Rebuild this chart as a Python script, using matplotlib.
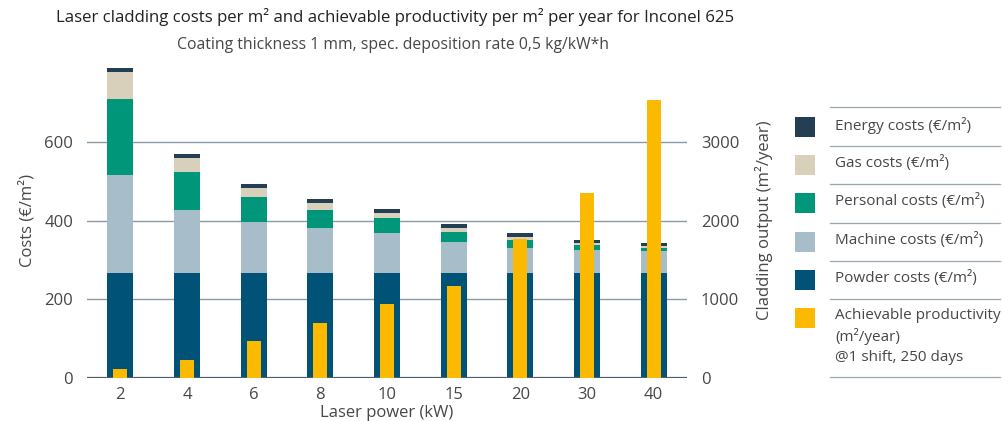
"""Laser cladding costs and productivity for Inconel 625."""

import matplotlib

matplotlib.use("Agg")

import matplotlib.pyplot as plt
import numpy as np
from matplotlib.lines import Line2D
from matplotlib.patches import Rectangle

power_kw = ["2", "4", "6", "8", "10", "15", "20", "30", "40"]
powder = [268, 268, 268, 268, 268, 268, 268, 268, 268]
machine = [248, 160, 128, 112, 100, 78, 63, 57, 55]
personal = [192, 96, 65, 48, 38, 25, 20, 13, 8]
gas = [69, 35, 22, 17, 13, 10, 7, 4, 4]
energy = [10, 10, 10, 11, 11, 10, 10, 9, 9]
productivity = [115, 236, 473, 705, 938, 1174, 1762, 2349, 3527]

legend_labels = [
    "Energy costs (€/m²)",
    "Gas costs (€/m²)",
    "Personal costs (€/m²)",
    "Machine costs (€/m²)",
    "Powder costs (€/m²)",
    "Achievable productivity\n(m²/year)\n@1 shift, 250 days",
]

C_ENERGY = "#243e54"
C_GAS = "#d9d0bb"
C_PERSONAL = "#009679"
C_MACHINE = "#a7bdca"
C_POWDER = "#005276"
C_PROD = "#fbb900"
GRID = "#8c9aa4"
TXT = "#474747"

plt.rcParams["font.family"] = ["Open Sans", "DejaVu Sans"]

fig = plt.figure(figsize=(10.03, 4.21), dpi=100)
ax = fig.add_axes([0.0867, 0.1014, 0.5983, 0.7492])
x = np.arange(len(power_kw))
w = 0.39

stack = [
    (powder, C_POWDER),
    (machine, C_MACHINE),
    (personal, C_PERSONAL),
    (gas, C_GAS),
    (energy, C_ENERGY),
]
bottom = np.zeros(len(x))
for vals, col in stack:
    ax.bar(x, vals, w, bottom=bottom, color=col, zorder=2, linewidth=0)
    bottom += np.array(vals)

ax.set_xlim(-0.5, len(x) - 0.5)
ax.set_ylim(0, 800)
ax.set_yticks([0, 200, 400, 600])
ax.set_xticks(x)
ax.set_xticklabels(power_kw)
for v in [200, 400, 600]:
    ax.axhline(v, color=GRID, lw=1.0, zorder=1)
ax.axhline(0, color="#4d5d69", lw=1.6, zorder=3)
for s in ax.spines.values():
    s.set_visible(False)
ax.tick_params(axis="both", length=0, labelsize=12, colors=TXT, pad=6)
ax.tick_params(axis="y", pad=10)
ax.set_ylabel("Costs (€/m²)", fontsize=12, color=TXT, labelpad=6)
ax.set_xlabel("Laser power (kW)", fontsize=12, color=TXT, labelpad=2)

ax2 = ax.twinx()
ax2.bar(x, productivity, 0.21, color=C_PROD, zorder=3, linewidth=0)
ax2.set_ylim(0, 4000)
ax2.set_yticks([0, 1000, 2000, 3000])
for s in ax2.spines.values():
    s.set_visible(False)
ax2.tick_params(axis="y", length=0, labelsize=12, colors=TXT, pad=10)
ax2.set_ylabel("Cladding output (m²/year)", fontsize=12, color=TXT, labelpad=11)

fig.text(0.394, 0.96, "Laser cladding costs per m² and achievable productivity per m² per year for Inconel 625",
         ha="center", va="center", fontsize=12.1, color="#222222")
fig.text(0.392, 0.893, "Coating thickness 1 mm, spec. deposition rate 0,5 kg/kW*h",
         ha="center", va="center", fontsize=11.3, color=TXT)

# legend drawn by hand: swatch, label, separator lines
W, H = fig.get_size_inches() * fig.dpi
colors = [C_ENERGY, C_GAS, C_PERSONAL, C_MACHINE, C_POWDER, C_PROD]
row_y = [127, 165, 203, 242, 280, 318]
sep_y = [107, 146, 184, 223, 261, 299, 377]
for yy in sep_y:
    fig.add_artist(Line2D([830 / W, 1000 / W], [1 - yy / H, 1 - yy / H], color="#9aa6ae", lw=0.9))
for lab, col, yy in zip(legend_labels, colors, row_y):
    fig.add_artist(Rectangle((795 / W, 1 - (yy + 10) / H), 20 / W, 20 / H, color=col, lw=0))
    fig.text(835 / W, 1 - (yy - 10) / H, lab, ha="left", va="top", fontsize=11,
             color=TXT, linespacing=1.4)

fig.savefig("out.png", dpi=100, facecolor="white")
